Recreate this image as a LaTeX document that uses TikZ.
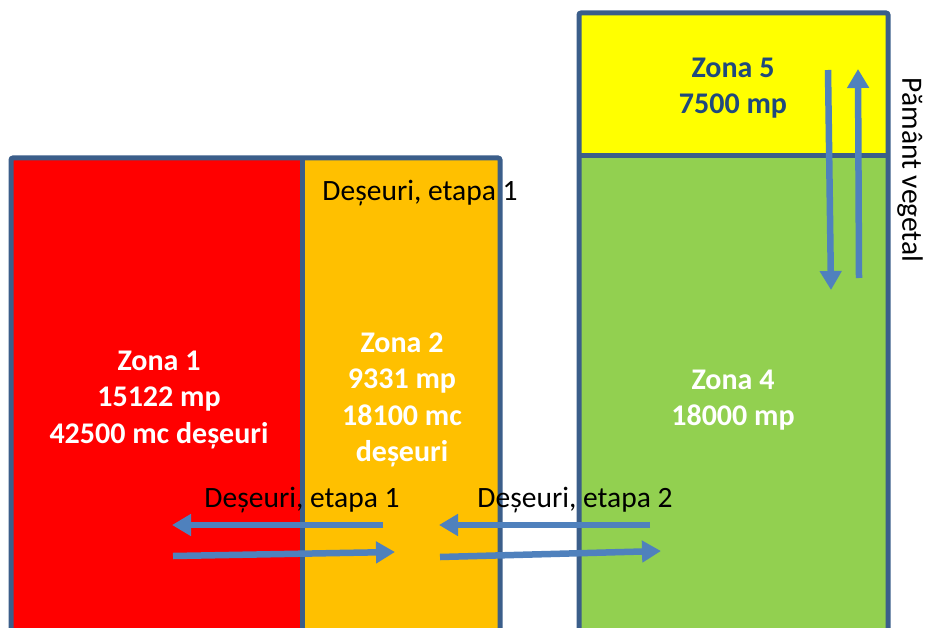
\documentclass[tikz,border=0pt]{standalone}
\usepackage{fontspec}
\setmainfont{Carlito}
\usetikzlibrary{arrows.meta}
\definecolor{bordc}{RGB}{59,94,138}
\definecolor{arrc}{RGB}{79,129,189}
\definecolor{z5txt}{RGB}{31,73,125}
\definecolor{zred}{RGB}{255,0,0}
\definecolor{zorange}{RGB}{255,192,0}
\definecolor{zgreen}{RGB}{146,208,80}
\definecolor{zyellow}{RGB}{255,255,0}
\tikzset{
  zonebox/.style={draw=bordc, line width=5pt, rounded corners=2pt},
  zonetext/.style={align=center, font=\bfseries\fontsize{30}{36.3}\selectfont, text=white, inner sep=0pt},
  lbl/.style={font=\fontsize{29.5}{34}\selectfont, text=black, inner sep=0pt},
  flow/.style={draw=arrc, line width=6.5pt, -{Triangle[length=19pt,width=21pt]}}
}
\begin{document}
\begin{tikzpicture}[x=1pt,y=-1pt]
\useasboundingbox (0,0) rectangle (925,628);
\clip (0,0) rectangle (925,628);
% fills
\fill[zred] (11,158) rectangle (302,660);
\fill[zorange] (302,158) rectangle (500,660);
\fill[zyellow] (579,13) rectangle (888,156);
\fill[zgreen] (579,156) rectangle (888,660);
% borders
\draw[zonebox] (11,660) -- (11,158) -- (500,158) -- (500,660);
\draw[draw=bordc, line width=5pt] (302,158) -- (302,660);
\draw[zonebox] (579,660) -- (579,13) -- (888,13) -- (888,660);
\draw[draw=bordc, line width=5pt] (579,156) -- (888,156);
% zone texts
\node[zonetext] (z1) at (159,400) {Zona 1\\15122 mp\\42500 mc deșeuri};
\node[zonetext] (z2) at (402,400) {Zona 2\\9331 mp\\18100 mc\\deșeuri};
\node[zonetext] (z4) at (733,400) {Zona 4\\18000 mp};
\node[zonetext, text=z5txt] (z5) at (733,88) {Zona 5\\7500 mp};
% labels
\node[lbl] (l1) at (420,193) {Deșeuri, etapa 1};
\node[lbl] (l2) at (302,500) {Deșeuri, etapa 1};
\node[lbl] (l3) at (575,500) {Deșeuri, etapa 2};
\node[lbl, rotate=-90] (l4) at (910,170) {Pământ vegetal};
% arrow endpoints
\coordinate (a1s) at (383,525); \coordinate (a1e) at (172,525);
\coordinate (a2s) at (173,556); \coordinate (a2e) at (395,552);
\coordinate (a3s) at (650,525); \coordinate (a3e) at (439,525);
\coordinate (a4s) at (440,557); \coordinate (a4e) at (661,551);
\coordinate (a5s) at (828,70);  \coordinate (a5e) at (831,290);
\coordinate (a6s) at (859,278); \coordinate (a6e) at (858,69);
\draw[flow] (a1s) -- (a1e);
\draw[flow] (a2s) -- (a2e);
\draw[flow] (a3s) -- (a3e);
\draw[flow] (a4s) -- (a4e);
\draw[flow] (a5s) -- (a5e);
\draw[flow] (a6s) -- (a6e);
\end{tikzpicture}
\end{document}
